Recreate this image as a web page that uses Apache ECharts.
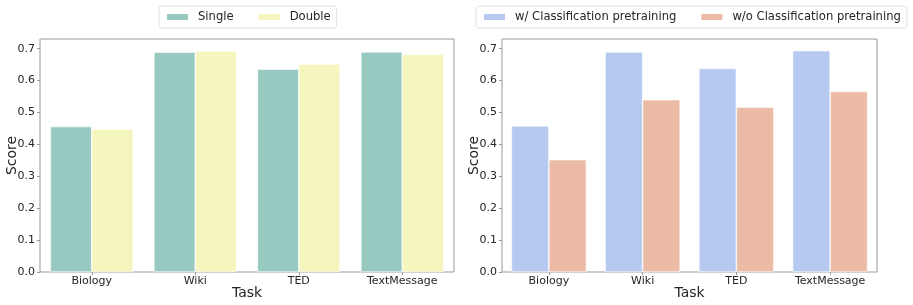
<!DOCTYPE html>
<html><head><meta charset="utf-8">
<script src="https://cdn.jsdelivr.net/npm/echarts@6/dist/echarts.min.js"></script>
<style>html,body{margin:0;padding:0;background:#fff}#c{width:913px;height:305px}</style>
</head><body><div id="c"></div>
<script>
const categories = ['Biology', 'Wiki', 'TED', 'TextMessage'];
const singleVals = [0.456, 0.689, 0.636, 0.690];
const doubleVals = [0.448, 0.693, 0.652, 0.682];
const withPre = [0.458, 0.690, 0.638, 0.694];
const withoutPre = [0.352, 0.540, 0.517, 0.566];
const yTicks = [0, 0.1, 0.2, 0.3, 0.4, 0.5, 0.6, 0.7];
const yMax = 0.7305;

const FONT = 'DejaVu Sans';
const TXT = '#262626';
const chart = echarts.init(document.getElementById('c'), null, {renderer: 'canvas'});

function xAxis(gi) {
  return {
    type: 'category', gridIndex: gi, data: categories,
    axisLine: {show: false},
    axisTick: {show: true, alignWithLabel: true, length: 3, lineStyle: {color: '#999'}},
    axisLabel: {fontFamily: FONT, fontSize: 11, color: TXT, margin: 4},
    name: 'Task', nameLocation: 'middle', nameGap: 14, nameMoveOverlap: false,
    nameTextStyle: {fontFamily: FONT, fontSize: 14, color: TXT}
  };
}
function yAxis(gi) {
  return {
    type: 'value', gridIndex: gi, min: 0, max: yMax,
    splitLine: {show: false},
    axisLine: {show: false},
    axisTick: {show: true, length: 3, lineStyle: {color: '#999'}, customValues: yTicks},
    axisLabel: {fontFamily: FONT, fontSize: 11, color: TXT, margin: 5, customValues: yTicks,
      formatter: v => v.toFixed(1)},
    name: 'Score', nameLocation: 'middle', nameGap: 21, nameMoveOverlap: false,
    nameTextStyle: {fontFamily: FONT, fontSize: 14, color: TXT}
  };
}
function bar(name, data, color, gi) {
  return {
    type: 'bar', name, data, xAxisIndex: gi, yAxisIndex: gi,
    barGap: '0%', barCategoryGap: '20%',
    itemStyle: {color, borderColor: '#fff', borderWidth: 0.6},
    emphasis: {disabled: true}
  };
}
const legendCommon = {
  top: 6, itemWidth: 23, itemHeight: 8, itemGap: 23, orient: 'horizontal', width: 600,
  borderColor: '#e0e0e0', borderWidth: 1, borderRadius: 3, padding: [5, 6],
  textStyle: {fontFamily: FONT, fontSize: 11.6, color: TXT, padding: [0, 0, 0, 4]},
  icon: 'rect'
};

chart.setOption({
  animation: false,
  grid: [
    {left: 40, right: 459, top: 39, bottom: 33, show: true, borderColor: '#999', borderWidth: 1, outerBoundsMode: 'none', containLabel: false},
    {left: 502, right: 36, top: 39, bottom: 33, show: true, borderColor: '#999', borderWidth: 1, outerBoundsMode: 'none', containLabel: false}
  ],
  legend: [
    Object.assign({}, legendCommon, {data: ['Single', 'Double'], left: 159}),
    Object.assign({}, legendCommon, {data: ['w/ Classification pretraining', 'w/o Classification pretraining'], left: 476})
  ],
  xAxis: [xAxis(0), xAxis(1)],
  yAxis: [yAxis(0), yAxis(1)],
  series: [
    bar('Single', singleVals, '#98c9c1', 0),
    bar('Double', doubleVals, '#f5f5be', 0),
    bar('w/ Classification pretraining', withPre, '#b5c9f1', 1),
    bar('w/o Classification pretraining', withoutPre, '#ebbba5', 1)
  ]
});
</script></body></html>
